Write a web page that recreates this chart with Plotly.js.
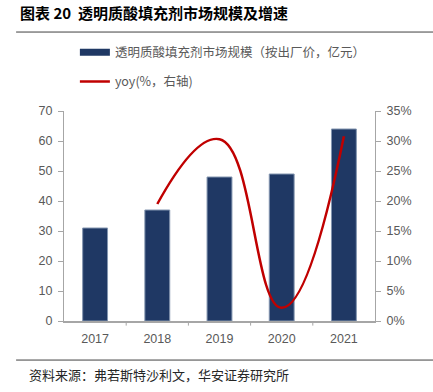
<!DOCTYPE html>
<html>
<head>
<meta charset="utf-8">
<script src="https://cdn.plot.ly/plotly-3.0.1.min.js"></script>
<style>html,body{margin:0;padding:0;background:#fff;}#chart{width:433px;height:392px;}</style>
</head>
<body>
<div id="chart"></div>
<script>
const years = ['2017', '2018', '2019', '2020', '2021'];
const marketSize = [31, 37, 48, 49, 64];
const yoyYears = ['2018', '2019', '2020', '2021'];
const yoy = [0.195, 0.303, 0.022, 0.308];
const leftTicks = [0, 10, 20, 30, 40, 50, 60, 70];
const rightTicks = [0, 0.05, 0.10, 0.15, 0.20, 0.25, 0.30, 0.35];
const rightTickText = ['0%', '5%', '10%', '15%', '20%', '25%', '30%', '35%'];
const barName = '透明质酸填充剂市场规模（按出厂价，亿元）';
const lineName = 'yoy(%，右轴)';

const cjk = '"Noto Sans CJK SC", "Liberation Sans", sans-serif';
const num = '"Liberation Sans", Arial, sans-serif';
const grey = '#595959';
const barColor = '#1f3864';

const traces = [
  {
    type: 'bar', x: years, y: marketSize,
    name: barName, showlegend: false,
    marker: {color: barColor, line: {color: '#8496b0', width: 1}},
    width: 0.4,
    hoverinfo: 'skip'
  },
  {
    // legend key only (wide flat swatch like the reference)
    type: 'scatter', mode: 'lines', x: [null], y: [null],
    name: barName, legendgroup: 'a',
    line: {color: barColor, width: 7},
    hoverinfo: 'skip'
  },
  {
    type: 'scatter', mode: 'lines', x: yoyYears, y: yoy, yaxis: 'y2',
    name: lineName,
    legendgroup: 'b',
    line: {color: '#c00000', width: 2.5, shape: 'spline', smoothing: 1.3},
    hoverinfo: 'skip'
  }
];

const layout = {
  width: 433, height: 392,
  margin: {l: 64, r: 58, t: 111, b: 71},
  paper_bgcolor: '#fff', plot_bgcolor: '#fff',
  showlegend: true,
  legend: {
    x: 0.035, y: 1.35, xanchor: 'left', yanchor: 'top',
    traceorder: 'grouped', tracegroupgap: 10,
    itemwidth: 30,
    font: {family: cjk, size: 12.5, color: grey},
    bgcolor: 'rgba(0,0,0,0)'
  },
  bargap: 0.6,
  xaxis: {
    type: 'category', showgrid: false, zeroline: false,
    showline: true, linecolor: '#a6a6a6', linewidth: 1.5,
    ticks: '', ticklabelstandoff: 5,
    tickfont: {family: num, size: 12.5, color: grey},
    fixedrange: true
  },
  yaxis: {
    range: [0, 70], tickvals: leftTicks, showgrid: false, zeroline: false,
    showline: true, linecolor: '#a6a6a6', linewidth: 1,
    ticks: 'outside', ticklen: 5, tickcolor: '#a6a6a6',
    ticklabelstandoff: 3,
    tickfont: {family: num, size: 12.5, color: grey},
    fixedrange: true
  },
  yaxis2: {
    overlaying: 'y', side: 'right', range: [0, 0.35],
    tickvals: rightTicks, ticktext: rightTickText,
    showgrid: false, zeroline: false,
    showline: true, linecolor: '#a6a6a6', linewidth: 1,
    ticks: 'outside', ticklen: 5, tickcolor: '#a6a6a6',
    ticklabelstandoff: 3,
    tickfont: {family: num, size: 12.5, color: grey},
    fixedrange: true
  },
  shapes: [
    {type: 'line', xref: 'paper', yref: 'paper', x0: -0.154, x1: 1.19, y0: 1.376, y1: 1.376,
     line: {color: '#404040', width: 1}},
    {type: 'line', xref: 'paper', yref: 'paper', x0: -0.154, x1: 1.19, y0: -0.186, y1: -0.186,
     line: {color: '#404040', width: 1}}
  ].concat([0.5, 1.5, 2.5, 3.5].map(v => ({
    type: 'line', xref: 'x', yref: 'paper', x0: v, x1: v, y0: 0, y1: -0.022,
    line: {color: '#a6a6a6', width: 1}
  }))),
  annotations: [
    {text: '<b>图表 20  透明质酸填充剂市场规模及增速</b>', xref: 'paper', yref: 'paper',
     x: -0.148, y: 1.47, xanchor: 'left', yanchor: 'middle', showarrow: false,
     font: {family: cjk, size: 15, color: '#000'}},
    {text: '资料来源：弗若斯特沙利文，华安证券研究所', xref: 'paper', yref: 'paper',
     x: -0.119, y: -0.255, xanchor: 'left', yanchor: 'middle', showarrow: false,
     font: {family: cjk, size: 13, color: '#262626'}}
  ]
};

Plotly.newPlot('chart', traces, layout, {displayModeBar: false, staticPlot: true});
</script>
</body>
</html>
